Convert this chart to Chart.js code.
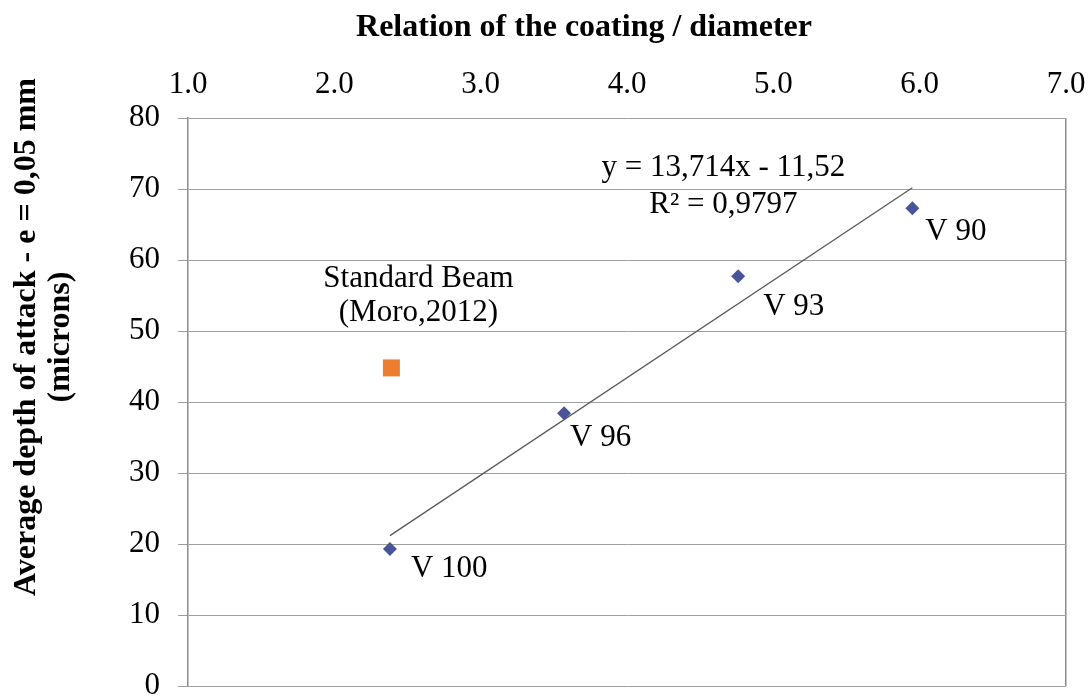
<!DOCTYPE html>
<html>
<head>
<meta charset="utf-8">
<script src="https://cdn.jsdelivr.net/npm/chart.js@4/dist/chart.umd.min.js"></script>
<style>
  html, body { margin: 0; padding: 0; background: #fff; }
  #wrap { width: 1090px; height: 698px; }
</style>
</head>
<body>
<div id="wrap"><canvas id="chart" width="1090" height="698"></canvas></div>
<script>
// data
var sampleLabels = ['V 100', 'V 96', 'V 93', 'V 90'];
var ratioValues = [2.38, 3.57, 4.76, 5.95];
var depthValues = [19.3, 38.4, 57.7, 67.3];
var beamLabel = ['Standard Beam', '(Moro,2012)'];
var beamRatio = [2.39];
var beamDepth = [44.8];
var trendText = ['y = 13,714x - 11,52', 'R\u00b2 = 0,9797'];
var xTitle = 'Relation of the coating / diameter';
var yTitle = ['Average depth of attack - e = 0,05 mm', '(microns)'];
var xMin = 1, xMax = 7, yMin = 0, yMax = 80;

// linear trend (least squares) like the spreadsheet's trendline
function fitLine(xs, ys) {
  var n = xs.length, mx = 0, my = 0;
  for (var i = 0; i < n; i++) { mx += xs[i]; my += ys[i]; }
  mx /= n; my /= n;
  var sxy = 0, sxx = 0;
  for (var j = 0; j < n; j++) {
    sxy += (xs[j] - mx) * (ys[j] - my);
    sxx += (xs[j] - mx) * (xs[j] - mx);
  }
  var b = sxy / sxx;
  return { slope: b, icept: my - b * mx };
}
var fit = fitLine(ratioValues, depthValues);
var xLo = Math.min.apply(null, ratioValues), xHi = Math.max.apply(null, ratioValues);
var trendPts = [
  { x: xLo, y: fit.slope * xLo + fit.icept },
  { x: xHi, y: fit.slope * xHi + fit.icept }
];

var serif = 'Liberation Serif, Times New Roman, serif';
var gridGrey = '#a0a0a0';
var borderGrey = '#8c8c8c';

// label offsets in px from their points (style only)
var labelOffsets = [[21, 28], [6, 33], [25, 39], [13, 32]];

var textPlugin = {
  id: 'textPlugin',
  afterDraw: function(chart) {
    var ctx = chart.ctx;
    var xs = chart.scales.x, ys = chart.scales.y;
    ctx.save();
    ctx.fillStyle = '#000';
    ctx.textBaseline = 'alphabetic';

    // point labels
    ctx.font = '31px ' + serif;
    ctx.textAlign = 'left';
    for (var i = 0; i < sampleLabels.length; i++) {
      var px = xs.getPixelForValue(ratioValues[i]);
      var py = ys.getPixelForValue(depthValues[i]);
      ctx.fillText(sampleLabels[i], px + labelOffsets[i][0], py + labelOffsets[i][1]);
    }

    // standard beam label
    ctx.textAlign = 'center';
    var bx = xs.getPixelForValue(beamRatio[0]);
    var by = ys.getPixelForValue(beamDepth[0]);
    ctx.fillText(beamLabel[0], bx + 27, by - 81);
    ctx.fillText(beamLabel[1], bx + 27, by - 47);

    // trend equation
    var tx = xs.getPixelForValue(trendPts[1].x);
    var ty = ys.getPixelForValue(trendPts[1].y);
    ctx.fillText(trendText[0], tx - 189, ty - 12);
    ctx.fillText(trendText[1], tx - 189, ty + 25);

    // axis titles
    ctx.font = 'bold 32px ' + serif;
    ctx.fillText(xTitle, 584, 36);
    ctx.translate(0, 337);
    ctx.rotate(-Math.PI / 2);
    ctx.fillText(yTitle[0], 0, 35);
    ctx.fillText(yTitle[1], 0, 69);
    ctx.restore();
  }
};

function noPad(s) {
  s.paddingLeft = 0; s.paddingRight = 0;
  s.paddingTop = 0; s.paddingBottom = 0;
}

new Chart(document.getElementById('chart'), {
  type: 'scatter',
  data: {
    datasets: [{
      label: 'Samples',
      data: ratioValues.map(function(v, i) { return { x: v, y: depthValues[i] }; }),
      pointStyle: 'rectRot',
      pointRadius: 7,
      backgroundColor: '#4a5599',
      borderColor: '#4a5599',
      borderWidth: 0
    }, {
      label: 'Standard Beam',
      data: beamRatio.map(function(v, i) { return { x: v, y: beamDepth[i] }; }),
      pointStyle: 'rect',
      pointRadius: 12,
      backgroundColor: '#ed7d31',
      borderColor: '#ed7d31',
      borderWidth: 0
    }, {
      type: 'line',
      label: 'Linear trend',
      data: trendPts,
      borderColor: '#5a5a5a',
      borderWidth: 1.3,
      pointRadius: 0,
      fill: false
    }] // datasets
  }, // data
  options: {
    responsive: false,
    animation: false,
    layout: { padding: { top: 0, left: 0, right: 24, bottom: 12 } },
    plugins: {
      legend: { display: false },
      tooltip: { enabled: false }
    },
    scales: {
      x: {
        type: 'linear',
        position: 'top',
        min: xMin,
        max: xMax,
        afterFit: function(s) { s.height = 118; noPad(s); },
        ticks: {
          stepSize: 1,
          padding: 15,
          color: '#000',
          font: { family: serif, size: 31 },
          callback: function(v) { return v.toFixed(1); }
        },
        grid: {
          drawTicks: false,
          lineWidth: 1.5,
          color: function(c) { return c.tick && c.tick.value === xMax ? borderGrey : 'transparent'; }
        },
        border: { display: false }
      },
      y: {
        min: yMin,
        max: yMax,
        afterFit: function(s) { s.width = 188; noPad(s); },
        ticks: {
          stepSize: 10,
          padding: 18,
          color: '#000',
          font: { family: serif, size: 31 }
        },
        grid: {
          color: gridGrey,
          lineWidth: 1,
          tickLength: 10
        },
        border: { display: true, color: borderGrey, width: 1.5 }
      }
    } // scales
  }, // options
  plugins: [textPlugin]
}); // chart end
</script>
</body>
</html>
